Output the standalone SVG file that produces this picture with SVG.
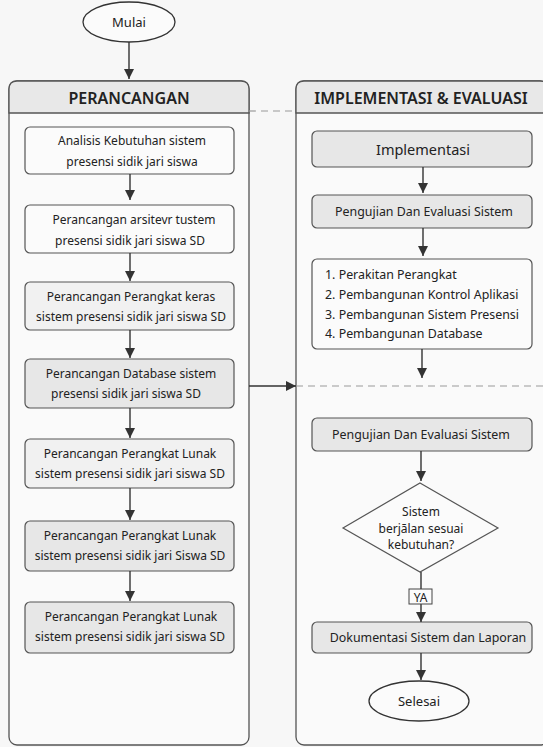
<svg xmlns="http://www.w3.org/2000/svg" width="543" height="747" viewBox="0 0 543 747">
<defs>
<marker id="ah" viewBox="0 0 10 10" refX="10" refY="5" markerWidth="10" markerHeight="10" markerUnits="userSpaceOnUse" orient="auto">
<path d="M0,0 L10,5 L0,10 Z" fill="#333"/>
</marker>
<style>
.bg{fill:#f7f7f7}
.panel{fill:#fafafa;stroke:#555;stroke-width:1.3}
.hdr{fill:#e8e8e8;stroke:#555;stroke-width:1.3}
.box{stroke:#555;stroke-width:1.2}
.w{fill:#fbfbfb}
.g1{fill:#f1f1f1}
.g2{fill:#e7e7e7}
.t{font-family:"Noto Sans","Open Sans","DejaVu Sans",sans-serif;font-size:12px;fill:#222;text-anchor:middle;dominant-baseline:central}
.r{font-size:12.4px}
.tl{text-anchor:start}
.h{font-size:16px;font-weight:600;fill:#222}
.c{stroke:#333;stroke-width:1.4;fill:none}
.d{stroke:#999;stroke-width:1.2;stroke-dasharray:7,5;fill:none}
</style>
</defs>
<rect class="bg" x="0" y="0" width="543" height="747"/>

<g id="panel-left">
<rect class="panel" x="9" y="81" width="240" height="664" rx="8"/>
<path class="hdr" d="M9,113 V89 Q9,81 17,81 H241 Q249,81 249,89 V113 Z"/>
<text class="t h" x="129" y="98">PERANCANGAN</text>
</g>
<g id="panel-right">
<rect class="panel" x="296" y="81" width="252" height="664" rx="8"/>
<path class="hdr" d="M296,113 V89 Q296,81 304,81 H540 Q548,81 548,89 V113 Z"/>
<text class="t h" x="421" y="98">IMPLEMENTASI &amp; EVALUASI</text>
</g>

<g id="mulai">
<ellipse cx="129" cy="22" rx="46" ry="20" fill="#fbfbfb" stroke="#333" stroke-width="1.3"/>
<text class="t" x="129" y="22" style="font-size:13px">Mulai</text>
</g>

<g id="l1"><rect class="box w" x="25" y="127" width="209" height="47" rx="5"/>
<text class="t" x="132" y="140">Analisis Kebutuhan sistem</text><text class="t" x="132" y="161">presensi sidik jari siswa</text></g>
<g id="l2"><rect class="box w" x="25" y="205" width="209" height="48" rx="5"/>
<text class="t" x="134" y="219">Perancangan arsitevr tustem</text><text class="t" x="130" y="240">presensi sidik jari siswa SD</text></g>
<g id="l3"><rect class="box g1" x="25" y="282" width="209" height="48" rx="5"/>
<text class="t" x="131" y="296">Perancangan Perangkat keras</text><text class="t" x="131" y="316">sistem presensi sidik jari siswa SD</text></g>
<g id="l4"><rect class="box g2" x="25" y="359" width="209" height="49" rx="5"/>
<text class="t" x="131" y="373">Perancangan Database sistem</text><text class="t" x="126" y="393">presensi sidik jari siswa SD</text></g>
<g id="l5"><rect class="box g1" x="25" y="439" width="209" height="49" rx="5"/>
<text class="t" x="130" y="453">Perancangan Perangkat Lunak</text><text class="t" x="130" y="473">sistem presensi sidik jari siswa SD</text></g>
<g id="l6"><rect class="box g2" x="25" y="521" width="209" height="50" rx="5"/>
<text class="t" x="130" y="535">Perancangan Perangkat Lunak</text><text class="t" x="130" y="555">sistem presensi sidik jari Siswa SD</text></g>
<g id="l7"><rect class="box g2" x="25" y="602" width="209" height="51" rx="5"/>
<text class="t" x="131" y="616">Perancangan Perangkat Lunak</text><text class="t" x="130" y="636">sistem presensi sidik jari siswa SD</text></g>

<g id="r1"><rect class="box g2" x="312" y="131" width="220" height="36" rx="5"/>
<text class="t" x="423" y="149" style="font-size:14.5px">Implementasi</text></g>
<g id="r2"><rect class="box g2" x="312" y="195" width="220" height="33" rx="5"/>
<text class="t r" x="424" y="211">Pengujian Dan Evaluasi Sistem</text></g>
<g id="r3"><rect class="box w" x="312" y="259" width="220" height="90" rx="5"/>
<text class="t r tl" x="325" y="274">1. Perakitan Perangkat</text>
<text class="t r tl" x="325" y="294">2. Pembangunan Kontrol Aplikasi</text>
<text class="t r tl" x="325" y="314">3. Pembangunan Sistem Presensi</text>
<text class="t r tl" x="325" y="333">4. Pembangunan Database</text></g>
<g id="r4"><rect class="box g2" x="312" y="418" width="220" height="33" rx="5"/>
<text class="t r" x="421" y="434">Pengujian Dan Evaluasi Sistem</text></g>
<g id="r5"><path class="box" fill="#fbfbfb" d="M420,483 L498,528 L420,572 L343,528 Z"/>
<text class="t" x="421" y="511">Sistem</text><text class="t" x="421" y="528">berjālan sesuai</text><text class="t" x="421" y="544">kebutuhan?</text></g>
<g id="r6"><rect class="box g2" x="312" y="622" width="220" height="31" rx="5"/>
<text class="t r" x="428" y="637">Dokumentasi Sistem dan Laporan</text></g>
<g id="selesai">
<ellipse cx="419" cy="701" rx="50" ry="20" fill="#fbfbfb" stroke="#333" stroke-width="1.3"/>
<text class="t" x="419" y="701" style="font-size:13px">Selesai</text>
</g>

<g id="connectors">
<path class="d" d="M249,111 H296"/>
<path class="d" d="M296,386 H543"/>
<path class="c" d="M129,42 V79" marker-end="url(#ah)"/>
<path class="c" d="M130,174 V200" marker-end="url(#ah)"/>
<path class="c" d="M130,253 V281" marker-end="url(#ah)"/>
<path class="c" d="M130,330 V358" marker-end="url(#ah)"/>
<path class="c" d="M130,408 V438" marker-end="url(#ah)"/>
<path class="c" d="M130,488 V520" marker-end="url(#ah)"/>
<path class="c" d="M130,571 V601" marker-end="url(#ah)"/>
<path class="c" d="M249,386 H296" marker-end="url(#ah)"/>
<path class="c" d="M423,167 V193" marker-end="url(#ah)"/>
<path class="c" d="M423,228 V256" marker-end="url(#ah)"/>
<path class="c" d="M422,349 V378" marker-end="url(#ah)"/>
<path class="c" d="M421,451 V481" marker-end="url(#ah)"/>
<path class="c" d="M421,572 V590"/>
<path class="c" d="M421,603 V622" marker-end="url(#ah)"/>
<path class="c" d="M421,653 V680" marker-end="url(#ah)"/>
<rect x="409" y="589" width="23" height="15" fill="#fbfbfb" stroke="#444" stroke-width="1"/>
<text class="t" x="420.5" y="597" style="font-size:12px">YA</text>
</g>
</svg>
